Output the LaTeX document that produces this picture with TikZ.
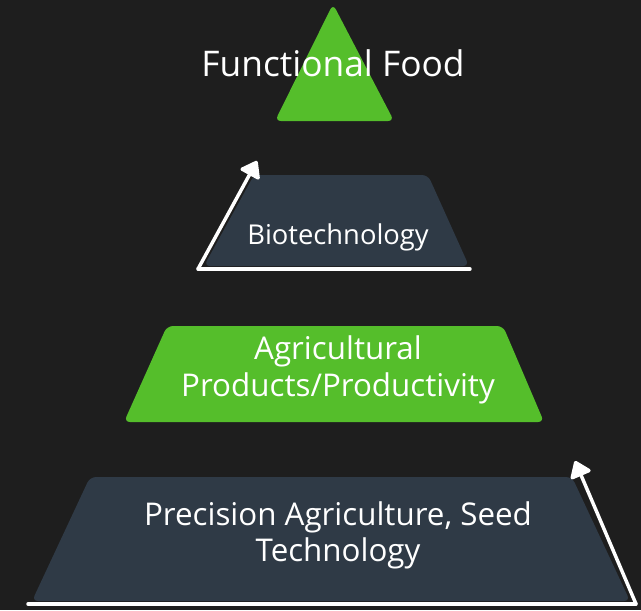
\documentclass[tikz,border=0pt]{standalone}
\usepackage{fontspec}
\setmainfont{Open Sans}
\usetikzlibrary{arrows.meta}
\definecolor{bg}{HTML}{1E1E1E}
\definecolor{lvgreen}{HTML}{55BE2B}
\definecolor{lvslate}{HTML}{2F3A46}
\tikzset{
  lvshape/.style={rounded corners=4.5pt},
  lvtext/.style={text=white, align=center, inner sep=0pt},
  lvarrow/.style={draw=white, line width=2.6pt, line cap=round, line join=round, -{Triangle[length=13pt,width=18pt,round]}},
  lvbase/.style={draw=white, line width=2.6pt, line cap=round, line join=round}
}
\begin{document}
\begin{tikzpicture}[x=0.75pt,y=-0.75pt]
\fill[bg] (0,0) rectangle (641,610);
\useasboundingbox (0,0) rectangle (641,610);
% level 1 triangle
\fill[lvgreen, lvshape] (333,4) -- (394,121) -- (275,121) -- cycle;
\node[lvtext, font=\fontsize{26.5}{30}\selectfont] (ff) at (333,63) {Functional Food};
% level 2 trapezoid
\fill[lvslate, lvshape] (254,175) -- (428,175) -- (469,266) -- (204,266) -- cycle;
\node[lvtext, font=\fontsize{20.5}{24}\selectfont] (bio) at (338,237) {Biotechnology};
\coordinate (bioR) at (470,269);
\coordinate (bioL) at (198,269);
\coordinate (bioT) at (257,161);
\draw[lvbase] (bioR) -- (bioL);
\draw[lvarrow] (bioL) -- (bioT);
% level 3 trapezoid
\fill[lvgreen, lvshape] (167,326) -- (503,326) -- (544,422) -- (124,422) -- cycle;
\node[lvtext, font=\fontsize{23.5}{27.5}\selectfont] (agr) at (338,370) {Agricultural\\Products/Productivity};
% level 4 trapezoid
\fill[lvslate, lvshape] (90,477) -- (572,477) -- (630,601) -- (32,601) -- cycle;
\node[lvtext, font=\fontsize{23.5}{27}\selectfont] (pa) at (338,535) {Precision Agriculture, Seed\\Technology};
\coordinate (paL) at (28,604);
\coordinate (paR) at (636,604);
\coordinate (paT) at (575,461);
\draw[lvbase] (paL) -- (paR);
\draw[lvarrow] (paR) -- (paT);
\end{tikzpicture}
\end{document}
